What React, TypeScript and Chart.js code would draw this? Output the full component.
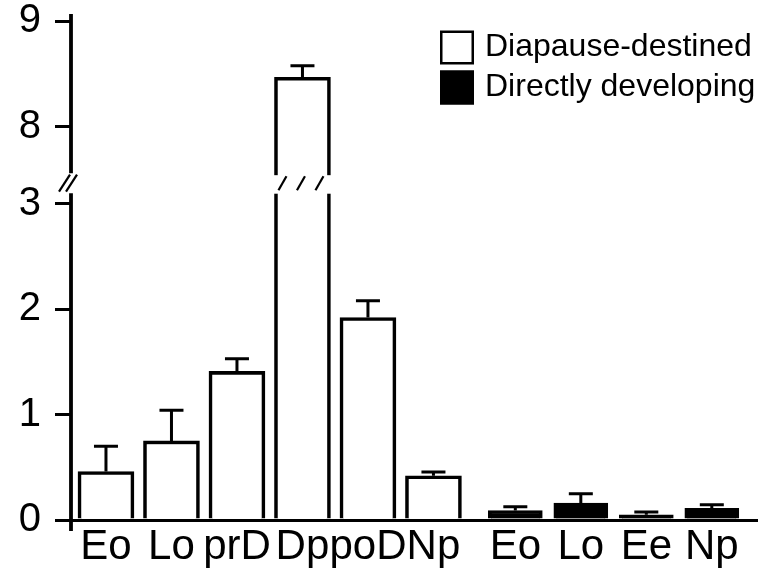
import React, { useEffect, useRef } from "react";
import { Chart, registerables } from "chart.js";

Chart.register(...registerables);

// ---------------- data ----------------
const SERIES_LABELS = ["Diapause-destined", "Directly developing"];
const DIAPAUSE_CATEGORIES = ["Eo", "Lo", "prD", "Dp", "poD", "Np"];
const DIRECT_CATEGORIES = ["Eo", "Lo", "Ee", "Np"];
const DIAPAUSE_VALUES = [0.46, 0.75, 1.41, 8.47, 1.92, 0.42];
const DIAPAUSE_ERRORS = [0.24, 0.29, 0.12, 0.11, 0.16, 0.035];
const DIRECT_VALUES = [0.09, 0.16, 0.05, 0.11];
const DIRECT_ERRORS = [0.035, 0.09, 0.025, 0.035];
const Y_TICKS = [0, 1, 2, 3, 8, 9];

// ---------------- axis settings ----------------
const BREAK_LOW = 3.1; // top of the lower axis segment
const BREAK_HIGH = 7.56; // bottom of the upper axis segment
const BREAK_GAP = 0.19; // gap between the segments (display units)
const Y_TOP = 9.07;
const GROUP_GAP = 0.25; // extra space between the two groups (in bar slots)
const X_MIN = -0.534;
const X_MAX = 9.94;

const FONT = '"Liberation Sans", Arial, Helvetica, sans-serif';
const SHIFT = BREAK_HIGH - BREAK_LOW - BREAK_GAP;
const toDisplay = (v: number) => (v <= BREAK_LOW ? v : v - SHIFT);

const X_POS_DIAPAUSE = DIAPAUSE_CATEGORIES.map((_, i) => i);
const X_POS_DIRECT = DIRECT_CATEGORIES.map((_, j) => DIAPAUSE_CATEGORIES.length + GROUP_GAP + j);
const X_POSITIONS = [...X_POS_DIAPAUSE, ...X_POS_DIRECT];
const X_LABELS = [...DIAPAUSE_CATEGORIES, ...DIRECT_CATEGORIES];
const ALL_VALUES = [DIAPAUSE_VALUES, DIRECT_VALUES];
const ALL_ERRORS = [DIAPAUSE_ERRORS, DIRECT_ERRORS];

const errorBarPlugin = {
  id: "errorBars",
  afterDatasetsDraw(chart: any) {
    const ctx = chart.ctx;
    const yScale = chart.scales.y;
    ctx.save();
    ctx.strokeStyle = "#000";
    ctx.lineWidth = 3;
    chart.data.datasets.forEach((_: any, di: number) => {
      const meta = chart.getDatasetMeta(di);
      meta.data.forEach((el: any, i: number) => {
        const v = ALL_VALUES[di][i];
        const e = ALL_ERRORS[di][i];
        const yTop = yScale.getPixelForValue(toDisplay(v + e));
        ctx.beginPath();
        ctx.moveTo(el.x, el.y);
        ctx.lineTo(el.x, yTop);
        ctx.moveTo(el.x - 12, yTop);
        ctx.lineTo(el.x + 12, yTop);
        ctx.stroke();
      });
    });
    ctx.restore();
  },
};

const axisBreakPlugin = {
  id: "axisBreak",
  afterDraw(chart: any) {
    const ctx = chart.ctx;
    const yScale = chart.scales.y;
    const area = chart.chartArea;
    const yLow = yScale.getPixelForValue(BREAK_LOW);
    const yHigh = yScale.getPixelForValue(BREAK_LOW + BREAK_GAP);
    const yMid = (yLow + yHigh) / 2;
    ctx.save();
    // broken bars
    chart.data.datasets.forEach((_: any, di: number) => {
      const meta = chart.getDatasetMeta(di);
      meta.data.forEach((el: any, i: number) => {
        if (ALL_VALUES[di][i] <= BREAK_LOW) return;
        const half = el.width / 2;
        ctx.fillStyle = "#fff";
        ctx.fillRect(el.x - half - 2, yHigh + 2, el.width + 4, yLow - yHigh - 1.5);
        ctx.strokeStyle = "#000";
        ctx.lineWidth = 2.2;
        [-1, 0, 1].forEach((k) => {
          const cx = el.x - 1.5 + k * 18.5;
          ctx.beginPath();
          ctx.moveTo(cx - 4, yMid + 7);
          ctx.lineTo(cx + 4, yMid - 7);
          ctx.stroke();
        });
      });
    });
    // y axis line with gap
    const ax = area.left;
    ctx.strokeStyle = "#000";
    ctx.lineWidth = 3.8;
    ctx.beginPath();
    ctx.moveTo(ax, area.top);
    ctx.lineTo(ax, yHigh);
    ctx.moveTo(ax, yLow);
    ctx.lineTo(ax, area.bottom + 11);
    ctx.stroke();
    ctx.lineWidth = 2.2;
    [-6.5, 0.5].forEach((off) => {
      const cx = ax + off;
      ctx.beginPath();
      ctx.moveTo(cx - 5.5, yMid + 8.5);
      ctx.lineTo(cx + 5.5, yMid - 8.5);
      ctx.stroke();
    });
    ctx.restore();
  },
};

const insideLegendPlugin = {
  id: "insideLegend",
  afterDraw(chart: any) {
    const ctx = chart.ctx;
    const area = chart.chartArea;
    const box = 34;
    const boxX = area.right - 317;
    const y0 = area.top + 16.5;
    ctx.save();
    chart.data.datasets.forEach((ds: any, i: number) => {
      const y = y0 + i * 40;
      ctx.fillStyle = ds.backgroundColor;
      ctx.fillRect(boxX, y, box, box);
      ctx.strokeStyle = "#000";
      ctx.lineWidth = 2.5;
      ctx.strokeRect(boxX + 1.25, y + 1.25, box - 2.5, box - 2.5);
      ctx.fillStyle = "#000";
      ctx.font = `32px ${FONT}`;
      ctx.textAlign = "left";
      ctx.textBaseline = "middle";
      ctx.fillText(ds.label, boxX + 45, y + box / 2);
    });
    ctx.restore();
  },
};

export default function App() {
  const ref = useRef<HTMLCanvasElement>(null);
  useEffect(() => {
    document.body.style.margin = "0";
    const chart = new Chart(ref.current as HTMLCanvasElement, {
      type: "bar",
      data: {
        datasets: [
          {
            label: SERIES_LABELS[0],
            data: DIAPAUSE_VALUES.map((v, i) => ({ x: X_POS_DIAPAUSE[i], y: toDisplay(v) })),
            backgroundColor: "#fff",
            borderColor: "#000",
            borderWidth: 3.6,
            barThickness: 56,
            grouped: false,
          } as any,
          {
            label: SERIES_LABELS[1],
            data: DIRECT_VALUES.map((v, j) => ({ x: X_POS_DIRECT[j], y: toDisplay(v) })),
            backgroundColor: "#000",
            borderColor: "#000",
            borderWidth: 3,
            barThickness: 54,
            grouped: false,
          } as any,
        ],
      },
      options: {
        animation: false,
        responsive: false,
        devicePixelRatio: 1,
        layout: { padding: { top: 14, right: 1, left: 0, bottom: 0 } },
        plugins: { legend: { display: false }, tooltip: { enabled: false } },
        scales: {
          x: {
            type: "linear",
            offset: false,
            min: X_MIN,
            max: X_MAX,
            afterBuildTicks: (scale: any) => {
              scale.ticks = X_POSITIONS.map((v) => ({ value: v }));
            },
            afterFit: (scale: any) => {
              scale.height = 56;
              scale.paddingLeft = 0;
              scale.paddingRight = 0;
            },
            ticks: {
              callback: (_v: any, idx: number) => X_LABELS[idx],
              font: { size: 42, family: FONT },
              color: "#000",
              padding: 2,
              autoSkip: false,
              maxRotation: 0,
              minRotation: 0,
            },
            grid: { display: false, drawTicks: false, offset: false },
            border: { display: true, width: 3, color: "#000" },
          },
          y: {
            type: "linear",
            min: 0,
            max: toDisplay(Y_TOP),
            afterBuildTicks: (scale: any) => {
              scale.ticks = Y_TICKS.map((v) => ({ value: toDisplay(v) }));
            },
            afterFit: (scale: any) => {
              scale.width = 71;
              scale.paddingTop = 0;
              scale.paddingBottom = 0;
            },
            ticks: {
              callback: (_v: any, idx: number) => String(Y_TICKS[idx]),
              font: { size: 40, family: FONT },
              color: "#000",
              padding: 14,
              autoSkip: false,
            },
            grid: {
              drawOnChartArea: false,
              drawTicks: true,
              tickLength: 16,
              lineWidth: 3,
              color: "#000",
            },
            border: { display: false },
          },
        },
      } as any,
      plugins: [errorBarPlugin, axisBreakPlugin, insideLegendPlugin],
    });
    return () => chart.destroy();
  }, []);
  return (
    <div style={{ width: 758, height: 576 }}>
      <canvas ref={ref} width={758} height={576} style={{ display: "block" }} />
    </div>
  );
}
